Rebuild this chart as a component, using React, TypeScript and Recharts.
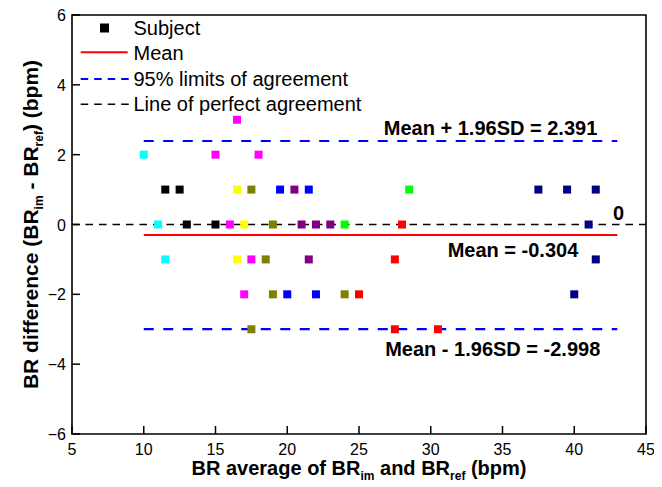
import React from 'react';
import { ScatterChart, Scatter, XAxis, YAxis, ReferenceLine, ReferenceArea, Legend } from 'recharts';

const FONT = '"Liberation Sans", Arial, Helvetica, sans-serif';

// ---- data ----
const xTicks = [5, 10, 15, 20, 25, 30, 35, 40, 45];
const yTicks = [-6, -4, -2, 0, 2, 4, 6];

const cyanPts = [{ x: 10, y: 2 }, { x: 11, y: 0 }, { x: 11.5, y: -1 }];
const magentaPts = [{ x: 16.5, y: 3 }, { x: 15, y: 2 }, { x: 18, y: 2 }, { x: 16, y: 0 }, { x: 17.5, y: -1 }, { x: 17, y: -2 }];
const blackPts = [{ x: 11.5, y: 1 }, { x: 12.5, y: 1 }, { x: 13, y: 0 }, { x: 15, y: 0 }];
const yellowPts = [{ x: 16.5, y: 1 }, { x: 17, y: 0 }, { x: 16.5, y: -1 }];
const olivePts = [{ x: 17.5, y: 1 }, { x: 19, y: 0 }, { x: 18.5, y: -1 }, { x: 19, y: -2 }, { x: 24, y: -2 }, { x: 17.5, y: -3 }];
const bluePts = [{ x: 19.5, y: 1 }, { x: 21.5, y: 1 }, { x: 20, y: -2 }, { x: 22, y: -2 }];
const purplePts = [{ x: 20.5, y: 1 }, { x: 21, y: 0 }, { x: 22, y: 0 }, { x: 23, y: 0 }, { x: 21.5, y: -1 }];
const greenPts = [{ x: 28.5, y: 1 }, { x: 24, y: 0 }];
const redPts = [{ x: 28, y: 0 }, { x: 27.5, y: -1 }, { x: 25, y: -2 }, { x: 27.5, y: -3 }, { x: 30.5, y: -3 }];
const navyPts = [{ x: 37.5, y: 1 }, { x: 39.5, y: 1 }, { x: 41.5, y: 1 }, { x: 41, y: 0 }, { x: 41.5, y: -1 }, { x: 40, y: -2 }];

const meanValue = -0.304;
const upperLimit = 2.391;
const lowerLimit = -2.998;
const lineStart = 10;
const lineEnd = 43;

const groups = [
  { key: 'cyan', color: '#00FFFF', data: cyanPts },
  { key: 'magenta', color: '#FF00FF', data: magentaPts },
  { key: 'black', color: '#000000', data: blackPts },
  { key: 'yellow', color: '#FFFF00', data: yellowPts },
  { key: 'olive', color: '#808000', data: olivePts },
  { key: 'blue', color: '#0000FF', data: bluePts },
  { key: 'purple', color: '#800080', data: purplePts },
  { key: 'green', color: '#00FF00', data: greenPts },
  { key: 'red', color: '#FF0000', data: redPts },
  { key: 'navy', color: '#000080', data: navyPts },
];

const fmt = (v: number) => (v < 0 ? '\u2212' + Math.abs(v) : String(v));

const XTick = (props: any) => {
  const { x, y, payload } = props;
  return (
    <g>
      <line x1={x} y1={y} x2={x} y2={y - 8} stroke="#000" strokeWidth={1.5} />
      <text x={x} y={y + 21} textAnchor="middle" fontSize={16} fontFamily={FONT} fill="#000">
        {fmt(payload.value)}
      </text>
    </g>
  );
};

const YTick = (props: any) => {
  const { x, y, payload } = props;
  return (
    <g>
      <line x1={x} y1={y} x2={x + 8} y2={y} stroke="#000" strokeWidth={1.5} />
      <text x={x - 6} y={y + 6} textAnchor="end" fontSize={16} fontFamily={FONT} fill="#000">
        {fmt(payload.value)}
      </text>
    </g>
  );
};

const square = (color: string) => (props: any) => {
  const { cx, cy } = props;
  if (cx == null || cy == null) return null;
  return <rect x={cx - 4} y={cy - 4} width={8} height={8} fill={color} />;
};

const annot = (text: string, fromRight: number, dy: number) => (props: any) => {
  const vb = props.viewBox;
  if (!vb) return null;
  return (
    <text
      x={vb.x + vb.width - fromRight}
      y={vb.y + dy}
      textAnchor="end"
      fontSize={20}
      fontWeight="bold"
      fontFamily={FONT}
      fill="#000"
    >
      {text}
    </text>
  );
};

const XLabel = (props: any) => {
  const vb = props.viewBox || { x: 64, y: 426, width: 574, height: 53 };
  return (
    <text x={vb.x + vb.width / 2} y={vb.y + 41} textAnchor="middle" fontSize={20} fontWeight="bold" fontFamily={FONT} fill="#000">
      BR average of BR
      <tspan fontSize={12} dy={5}>im</tspan>
      <tspan dy={-5}> and BR</tspan>
      <tspan fontSize={12} dy={5}>ref</tspan>
      <tspan dy={-5}> (bpm)</tspan>
    </text>
  );
};

const YLabel = (props: any) => {
  const vb = props.viewBox || { x: 0, y: 7, width: 64, height: 419 };
  const cx = 30;
  const cy = vb.y + vb.height / 2;
  return (
    <text
      x={cx}
      y={cy}
      transform={`rotate(-90, ${cx}, ${cy})`}
      textAnchor="middle"
      fontSize={21}
      fontWeight="bold"
      fontFamily={FONT}
      fill="#000"
    >
      BR difference (BR
      <tspan fontSize={12} dy={5}>im</tspan>
      <tspan dy={-5}> - BR</tspan>
      <tspan fontSize={12} dy={5}>ref</tspan>
      <tspan dy={-5}>) (bpm)</tspan>
    </text>
  );
};

const LegendBox = () => (
  <svg width={400} height={120} style={{ display: 'block' }}>
    <rect x={92} y={15.5} width={9} height={9} fill="#000" />
    <text x={125.5} y={26.5} fontSize={20} fontFamily={FONT} fill="#000">Subject</text>
    <line x1={72.7} y1={44.3} x2={119.7} y2={44.3} stroke="#FF0000" strokeWidth={2} />
    <text x={125.5} y={52} fontSize={20} fontFamily={FONT} fill="#000">Mean</text>
    <line x1={72.7} y1={71} x2={120.7} y2={71} stroke="#0000FF" strokeWidth={2} strokeDasharray="7.5 6" />
    <text x={125.5} y={78} fontSize={20} fontFamily={FONT} fill="#000">95% limits of agreement</text>
    <line x1={72.7} y1={96.3} x2={120.7} y2={96.3} stroke="#000" strokeWidth={1.6} strokeDasharray="7.5 6" />
    <text x={125.5} y={103} fontSize={20} fontFamily={FONT} fill="#000">Line of perfect agreement</text>
  </svg>
);

export default function App() {
  return (
    <ScatterChart width={654} height={479} margin={{ top: 7, right: 16, bottom: 0, left: 0 }}>
      <XAxis
        type="number"
        dataKey="x"
        domain={[5, 45]}
        ticks={xTicks}
        interval={0}
        allowDataOverflow
        height={53}
        tickSize={0}
        tickMargin={0}
        axisLine={false}
        tickLine={false}
        tick={<XTick />}
        label={(p: any) => <XLabel {...p} />}
      />
      <YAxis
        type="number"
        dataKey="y"
        domain={[-6, 6]}
        ticks={yTicks}
        interval={0}
        allowDataOverflow
        width={64}
        tickSize={0}
        tickMargin={0}
        axisLine={false}
        tickLine={false}
        tick={<YTick />}
        label={(p: any) => <YLabel {...p} />}
      />
      <ReferenceArea x1={5} x2={45} y1={-6} y2={6} fill="none" fillOpacity={0} stroke="#000" strokeWidth={1.6} />
      <ReferenceLine
        y={0}
        stroke="#000"
        strokeWidth={1.7}
        strokeDasharray="7.5 6"
        label={annot('0', 22, -5)}
      />
      <ReferenceLine
        segment={[{ x: lineStart, y: upperLimit }, { x: lineEnd, y: upperLimit }]}
        stroke="#0000FF"
        strokeWidth={2.2}
        strokeDasharray="10 9.5"
        label={annot('Mean + 1.96SD = 2.391', 20, -6.5)}
      />
      <ReferenceLine
        segment={[{ x: lineStart, y: lowerLimit }, { x: lineEnd, y: lowerLimit }]}
        stroke="#0000FF"
        strokeWidth={2.2}
        strokeDasharray="10 9.5"
        label={annot('Mean - 1.96SD = -2.998', 17, 27)}
      />
      <ReferenceLine
        segment={[{ x: lineStart, y: meanValue }, { x: lineEnd, y: meanValue }]}
        stroke="#FF0000"
        strokeWidth={2}
        label={annot('Mean = -0.304', 39, 21.5)}
      />
      {groups.map((g) => (
        <Scatter key={g.key} name={g.key} data={g.data} fill={g.color} shape={square(g.color)} isAnimationActive={false} />
      ))}
      <Legend
        layout="vertical"
        align="center"
        verticalAlign="middle"
        wrapperStyle={{ position: 'absolute', left: 0, top: 0, width: 400, height: 120, margin: 0, padding: 0, pointerEvents: 'none' }}
        content={() => <LegendBox />}
      />
    </ScatterChart>
  );
}
